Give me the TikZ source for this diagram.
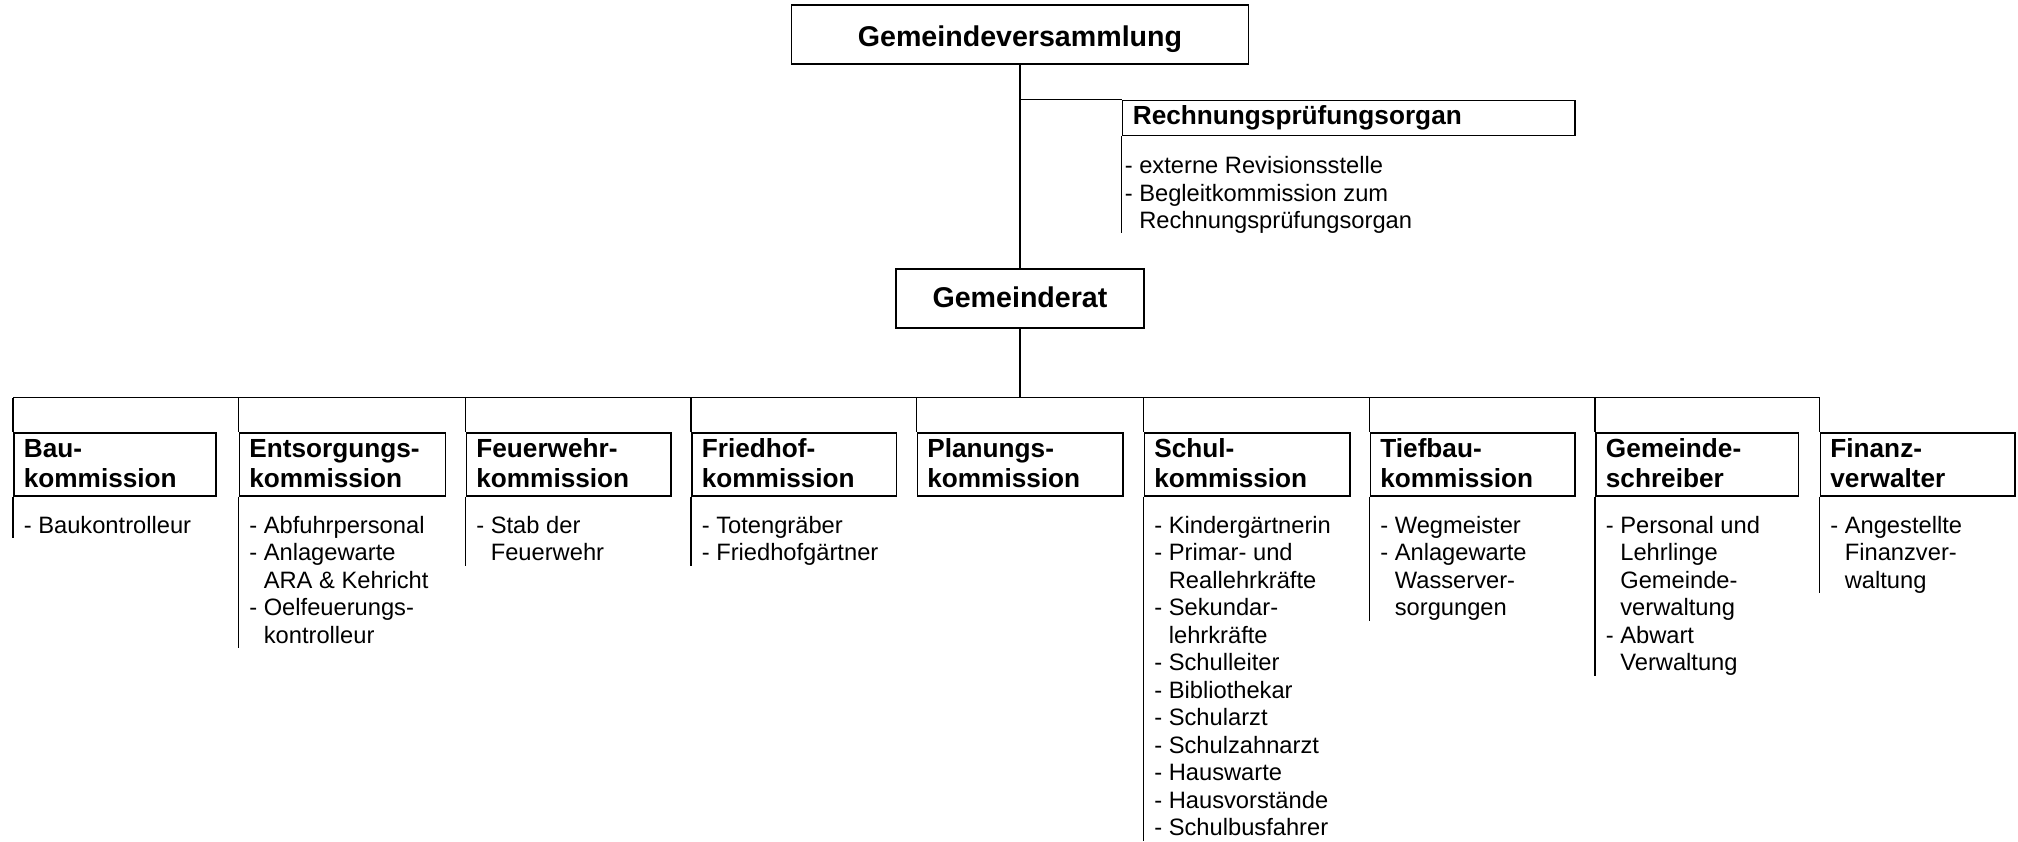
\documentclass[tikz,border=0pt]{standalone}
\usepackage{fontspec}
\setmainfont{Liberation Sans}
\newcommand\lstfont{\fontsize{11.85pt}{13.75pt}\selectfont}
\newcommand\hdfont{\fontsize{13.1pt}{15pt}\selectfont\bfseries}
\newcommand\ttlfont{\fontsize{14.3pt}{16pt}\selectfont\bfseries}
\newcommand\cont{\hphantom{- }}
\newcommand\hdtext[2]{\parbox[t]{160pt}{\hdfont\raggedright #1\\#2}}
\newcommand\lsttext[1]{\parbox[t]{160pt}{\lstfont\raggedright #1}}
\begin{document}
\begin{tikzpicture}[x=0.5pt,y=-0.5pt,line width=0.85pt,
  topbox/.style={draw,inner sep=0pt,minimum height=29.5pt},
  colbox/.style={draw,anchor=north west,inner sep=0pt,minimum width=102.5pt,minimum height=31.5pt},
  txt/.style={anchor=base west,inner sep=0pt},
  ttl/.style={anchor=base,inner sep=0pt,font=\ttlfont},
]
\useasboundingbox (0,0) rectangle (2018,841);

% top levels
\node[topbox,minimum width=228.5pt] (gv) at (1020,34.75) {};
\node[ttl] (gvt) at (1020,46) {Gemeindeversammlung};
\node[topbox,minimum width=124pt] (gr) at (1020,298.5) {};
\node[ttl] (grt) at (1020,307.5) {Gemeinderat};
\node[draw,anchor=north west,inner sep=0pt,minimum width=226.25pt,minimum height=17.5pt] (rp) at (1121.5,99.5) {};
\node[txt] (rpt) at (1132,124) {\hdfont Rechnungsprüfungsorgan};
\node[txt] (rpl) at (1124,173.5) {\lsttext{- externe Revisionsstelle\\- Begleitkommission zum\\\cont Rechnungsprüfungsorgan}};
\coordinate (rpe) at (1121.5,233);

\draw (gv.south) -- (gr.north);
\draw (gv.south |- rp.north west) -- (rp.north west);
\draw (rp.south west) -- (rpe);

% bus
\coordinate (b0) at (13,397.5);
\coordinate (b1) at (238.5,397.5);
\coordinate (b2) at (465.5,397.5);
\coordinate (b3) at (691,397.5);
\coordinate (b4) at (916.5,397.5);
\coordinate (b5) at (1143.5,397.5);
\coordinate (b6) at (1369.5,397.5);
\coordinate (b7) at (1595,397.5);
\coordinate (b8) at (1819.5,397.5);
\draw (b0) -- (b8);
\draw (gr.south) -- (gr.south |- b0);

% column boxes
\node[colbox,minimum width=101pt] (c0) at (13,432) {};
\node[colbox,minimum width=103pt] (c1) at (238.5,432) {};
\node[colbox,minimum width=102.25pt] (c2) at (465.5,432) {};
\node[colbox,minimum width=102.25pt] (c3) at (691,432) {};
\node[colbox,minimum width=102.75pt] (c4) at (916.5,432) {};
\node[colbox,minimum width=102.75pt] (c5) at (1143.5,432) {};
\node[colbox,minimum width=102.25pt] (c6) at (1369.5,432) {};
\node[colbox,minimum width=101.25pt] (c7) at (1595,432) {};
\node[colbox,minimum width=97.25pt] (c8) at (1819.5,432) {};

% headings
\node[txt] (h0) at (23,457.5) {\hdtext{Bau-}{kommission}};
\node[txt] (h1) at (248.5,457.5) {\hdtext{Entsorgungs-}{kommission}};
\node[txt] (h2) at (475.5,457.5) {\hdtext{Feuerwehr-}{kommission}};
\node[txt] (h3) at (701,457.5) {\hdtext{Friedhof-}{kommission}};
\node[txt] (h4) at (926.5,457.5) {\hdtext{Planungs-}{kommission}};
\node[txt] (h5) at (1153.5,457.5) {\hdtext{Schul-}{kommission}};
\node[txt] (h6) at (1379.5,457.5) {\hdtext{Tiefbau-}{kommission}};
\node[txt] (h7) at (1605,457.5) {\hdtext{Gemeinde-}{schreiber}};
\node[txt] (h8) at (1829.5,457.5) {\hdtext{Finanz-}{verwalter}};

% lists
\node[txt] (l0) at (23,533.3) {\lsttext{- Baukontrolleur}};
\node[txt] (l1) at (248.5,533.3) {\lsttext{- Abfuhrpersonal\\- Anlagewarte\\\cont ARA \& Kehricht\\- Oelfeuerungs-\\\cont kontrolleur}};
\node[txt] (l2) at (475.5,533.3) {\lsttext{- Stab der\\\cont Feuerwehr}};
\node[txt] (l3) at (701,533.3) {\lsttext{- Totengräber\\- Friedhofgärtner}};
\node[txt] (l5) at (1153.5,533.3) {\lsttext{- Kindergärtnerin\\- Primar- und\\\cont Reallehrkräfte\\- Sekundar-\\\cont lehrkräfte\\- Schulleiter\\- Bibliothekar\\- Schularzt\\- Schulzahnarzt\\- Hauswarte\\- Hausvorstände\\- Schulbusfahrer}};
\node[txt] (l6) at (1379.5,533.3) {\lsttext{- Wegmeister\\- Anlagewarte\\\cont Wasserver-\\\cont sorgungen}};
\node[txt] (l7) at (1605,533.3) {\lsttext{- Personal und\\\cont Lehrlinge\\\cont Gemeinde-\\\cont verwaltung\\- Abwart\\\cont Verwaltung}};
\node[txt] (l8) at (1829.5,533.3) {\lsttext{- Angestellte\\\cont Finanzver-\\\cont waltung}};

% list end points
\coordinate (e0) at (13,538);
\coordinate (e1) at (238.5,648);
\coordinate (e2) at (465.5,566);
\coordinate (e3) at (691,566);
\coordinate (e5) at (1143.5,841);
\coordinate (e6) at (1369.5,620.5);
\coordinate (e7) at (1595,675.5);
\coordinate (e8) at (1819.5,593);

% connectors
\foreach \i in {0,...,8} {\draw (b\i) -- (c\i.north west);}
\foreach \i in {0,1,2,3,5,6,7,8} {\draw (c\i.south west) -- (e\i);}
\end{tikzpicture}
\end{document}
